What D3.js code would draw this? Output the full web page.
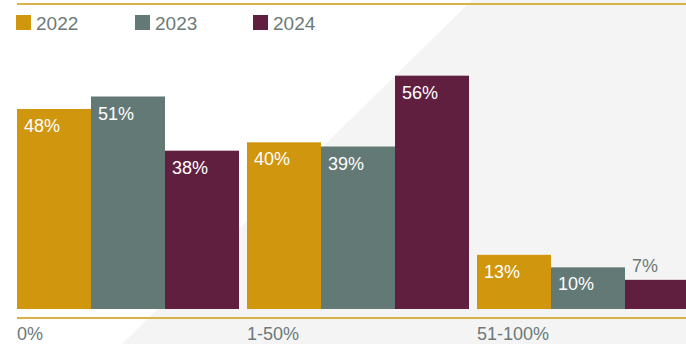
<!DOCTYPE html>
<html>
<head>
<meta charset="utf-8">
<script src="https://cdn.jsdelivr.net/npm/d3@7"></script>
<style>
  html, body { margin: 0; padding: 0; background: #fff; overflow: hidden; }
  svg { display: block; font-family: "Liberation Sans", Arial, sans-serif; }
</style>
</head>
<body>
<script>
var width = 686, height = 344;

// data
var categories = ['0%', '1-50%', '51-100%'];
var years = ['2022', '2023', '2024'];
var values2022 = [48, 40, 13];
var values2023 = [51, 39, 10];
var values2024 = [38, 56, 7];
var colors = ['#cf960e', '#637975', '#611f3f'];

var series = [values2022, values2023, values2024];

var svg = d3.select('body').append('svg').attr('width', width).attr('height', height);

// light grey diagonal background
svg.append('polygon')
  .attr('points', '472,0 686,0 686,344 122,344')
  .attr('fill', '#f4f4f4');

// top gold rule
svg.append('line')
  .attr('x1', 17).attr('x2', width).attr('y1', 4).attr('y2', 4)
  .attr('stroke', '#d9b04a').attr('stroke-width', 2);

// legend
var legend = svg.selectAll('.leg').data(years).join('g')
  .attr('class', 'leg')
  .attr('transform', function(d, i) { return 'translate(' + [16, 135, 253][i] + ',15)'; });
legend.append('rect').attr('width', 15).attr('height', 15)
  .attr('fill', function(d, i) { return colors[i]; });
legend.append('text').attr('x', 20).attr('y', 15)
  .attr('font-size', 19).attr('fill', '#6b7a78').text(function(d) { return d; });

// scales
var x0 = d3.scaleBand().domain(categories).range([17, 699]).paddingInner(8 / 230);
var x1 = d3.scaleBand().domain(years).range([0, x0.bandwidth()]);
var y = d3.scaleLinear().domain([0, 60]).range([309, 59]);

var rows = [];
categories.forEach(function(c, ci) {
  years.forEach(function(yr, si) {
    rows.push({cat: c, year: yr, si: si, value: series[si][ci]});
  });
});

var bars = svg.append('g');
bars.selectAll('rect').data(rows).join('rect')
  .attr('x', function(d) { return x0(d.cat) + x1(d.year); })
  .attr('y', function(d) { return y(d.value); })
  .attr('width', x1.bandwidth())
  .attr('height', function(d) { return y(0) - y(d.value); })
  .attr('fill', function(d) { return colors[d.si]; });

// value labels: inside the bar, or above it when the bar is too short
bars.selectAll('text').data(rows).join('text')
  .attr('x', function(d) { return x0(d.cat) + x1(d.year) + 7; })
  .attr('y', function(d) {
    return (y(0) - y(d.value)) < 35 ? y(d.value) - 8 : y(d.value) + 23;
  })
  .attr('font-size', 18)
  .attr('fill', function(d) { return (y(0) - y(d.value)) < 35 ? '#6b7a78' : '#fff'; })
  .text(function(d) { return d.value + '%'; });

// bottom gold rule
svg.append('line')
  .attr('x1', 17).attr('x2', width).attr('y1', 318).attr('y2', 318)
  .attr('stroke', '#d9b04a').attr('stroke-width', 2);

// category labels
svg.selectAll('.cat').data(categories).join('text')
  .attr('class', 'cat')
  .attr('x', function(d) { return x0(d); })
  .attr('y', 340)
  .attr('font-size', 18)
  .attr('fill', '#6b7a78')
  .text(function(d) { return d; });

console.log('ready..');
</script>
</body>
</html>
